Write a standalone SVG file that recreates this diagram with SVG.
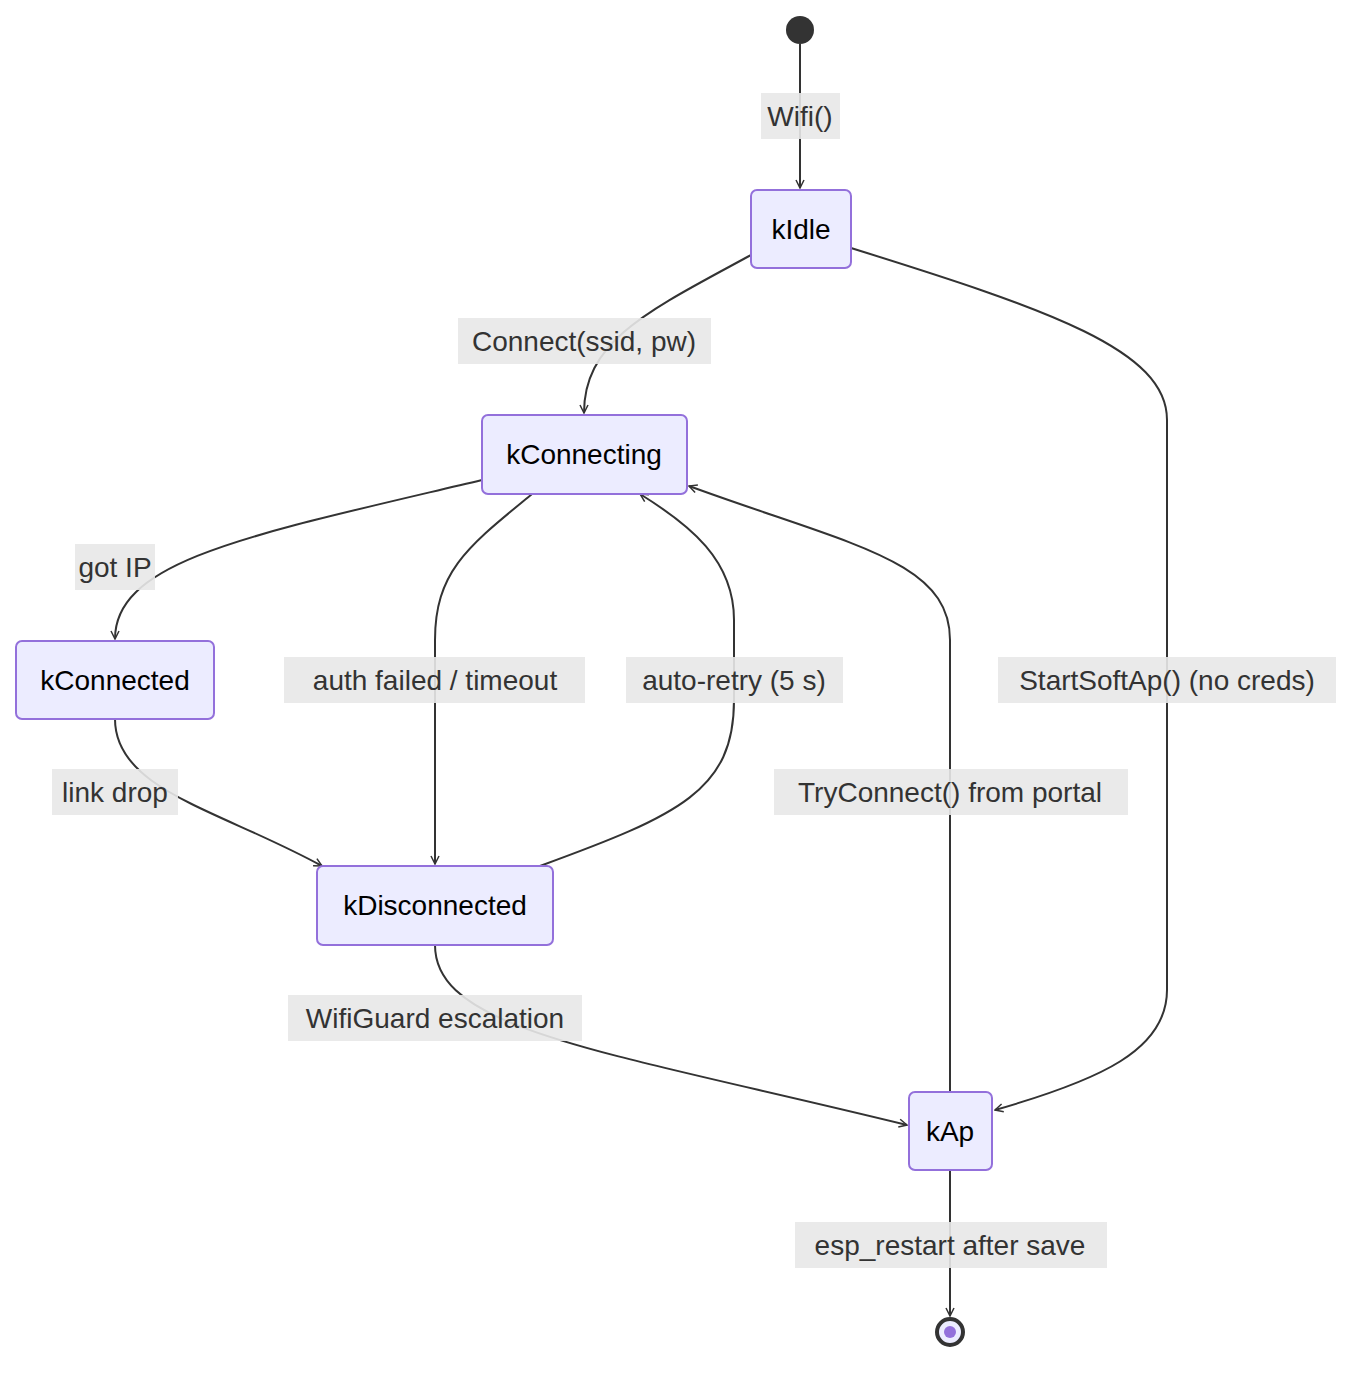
<svg xmlns="http://www.w3.org/2000/svg" width="1368" height="1376" viewBox="0 0 1368 1376">
<style>
.n rect{fill:#ECECFF;stroke:#9370DB;stroke-width:2}
.n text{font-family:"Liberation Sans",Arial,sans-serif;font-size:28px;fill:#000;text-anchor:middle;dominant-baseline:central}
.e path{fill:none;stroke:#333;stroke-width:2;marker-end:url(#a)}
.l rect{fill:#e8e8e8;opacity:0.9}
.l text{font-family:"Liberation Sans",Arial,sans-serif;font-size:28px;fill:#333;text-anchor:middle;dominant-baseline:central}
</style>
<defs>
<marker id="a" viewBox="0 0 20 20" refX="18" refY="10" markerWidth="10" markerHeight="10" markerUnits="userSpaceOnUse" orient="auto">
<path d="M2,2 L18,10 L2,18" fill="none" stroke="#333" stroke-width="3"/>
</marker>
</defs>
<rect width="1368" height="1376" fill="#fff"/>
<g id="connectors" class="e">
<path d="M800,44 L800,188"/>
<path d="M751,255 C650,310 584,340 584,413"/>
<path d="M851,248 C1050,310 1167,350 1167,420 L1167,990 C1167,1050 1100,1080 995,1110"/>
<path d="M482,480 C250,535 115,560 115,639"/>
<path d="M532,494 C470,545 435,570 435,640 L435,864"/>
<path d="M540,866 C680,815 734,790 734,700 L734,620 C734,560 690,525 640,494"/>
<path d="M950,1092 L950,640 C950,560 850,545 689,486"/>
<path d="M115,719 C115,790 220,810 322,866"/>
<path d="M435,945 C435,1030 600,1050 907,1125"/>
<path d="M950,1170 L950,1316"/>
</g>
<g id="labels" class="l">
<rect x="761" y="93" width="79" height="46"/><text x="800" y="116">Wifi()</text>
<rect x="458" y="318" width="253" height="46"/><text x="584" y="341">Connect(ssid, pw)</text>
<rect x="75" y="544" width="80" height="46"/><text x="115" y="567">got IP</text>
<rect x="284" y="657" width="301" height="46"/><text x="435" y="680">auth failed / timeout</text>
<rect x="626" y="657" width="217" height="46"/><text x="734" y="680">auto-retry (5 s)</text>
<rect x="998" y="657" width="338" height="46"/><text x="1167" y="680">StartSoftAp() (no creds)</text>
<rect x="774" y="769" width="354" height="46"/><text x="950" y="792">TryConnect() from portal</text>
<rect x="52" y="769" width="126" height="46"/><text x="115" y="792">link drop</text>
<rect x="288" y="995" width="294" height="46"/><text x="435" y="1018">WifiGuard escalation</text>
<rect x="795" y="1222" width="312" height="46"/><text x="950" y="1245">esp_restart after save</text>
</g>
<g id="start"><circle cx="800" cy="30" r="14" fill="#333"/></g>
<g id="kIdle" class="n"><rect x="751" y="190" width="100" height="78" rx="6"/><text x="801" y="229">kIdle</text></g>
<g id="kConnecting" class="n"><rect x="482" y="415" width="205" height="79" rx="6"/><text x="584" y="454">kConnecting</text></g>
<g id="kConnected" class="n"><rect x="16" y="641" width="198" height="78" rx="6"/><text x="115" y="680">kConnected</text></g>
<g id="kDisconnected" class="n"><rect x="317" y="866" width="236" height="79" rx="6"/><text x="435" y="905">kDisconnected</text></g>
<g id="kAp" class="n"><rect x="909" y="1092" width="83" height="78" rx="6"/><text x="950" y="1131">kAp</text></g>
<g id="end"><circle cx="950" cy="1332" r="13" fill="#ECECFF" stroke="#333" stroke-width="4"/><circle cx="950" cy="1332" r="6" fill="#9370DB"/></g>
</svg>
